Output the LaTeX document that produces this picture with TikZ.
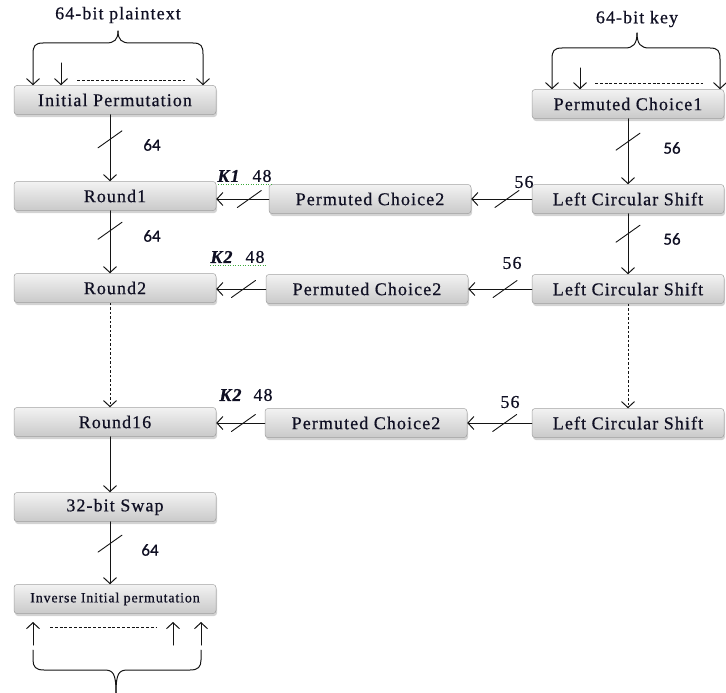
\documentclass[tikz,border=0pt]{standalone}
\usepackage{fontspec}
\setmainfont{Liberation Serif}[LetterSpace=6,FakeBold=0.6]
\newfontfamily\numfont{Carlito}[FakeBold=0.6]
\usepackage{xcolor}
\usetikzlibrary{arrows.meta,shadows}
\definecolor{inkc}{RGB}{15,15,35}
\definecolor{linec}{RGB}{20,20,20}
\definecolor{boxline}{RGB}{160,160,160}
\definecolor{spellc}{RGB}{60,170,60}
\tikzset{
 blk/.style={draw=boxline,line width=0.5pt,rounded corners=3pt,top color=gray!10,middle color=gray!24,bottom color=gray!42,minimum height=29pt,inner sep=0pt,text=inkc,font=\fontsize{18}{20}\selectfont,drop shadow={shadow xshift=1pt,shadow yshift=-2.5pt,opacity=.35}},
 lblk/.style={blk,minimum width=202pt},
 mblk/.style={blk,minimum width=202pt},
 rblk/.style={blk,minimum width=192pt},
 wid/.style={text=inkc,font=\numfont\fontsize{17}{19}\selectfont,inner sep=0pt},
 swid/.style={text=inkc,font=\fontsize{18}{20}\selectfont,inner sep=0pt},
 conn/.style={->,line width=1pt,draw=linec},
 dconn/.style={conn,line cap=butt,dash pattern=on 2.5pt off 2pt},
 dots/.style={line width=0.8pt,draw=linec,line cap=butt,dash pattern=on 3pt off 1.8pt},
 spell/.style={spellc,line width=0.7pt,line cap=butt,dash pattern=on 1pt off 1.5pt}
}
\newcommand{\busmark}[1]{\draw[line width=0.9pt,draw=linec] (#1) ++(-12,8.5) -- ++(24,-17);}

\begin{document}
\begin{tikzpicture}[line cap=round,line join=round,>={Straight Barb[length=6pt,width=13pt]},x=1pt,y=-1pt]
\useasboundingbox (0,0) rectangle (726,693);
\node[swid] (ptxt) at (118,15) {64-bit plaintext};
\node[swid] (ktxt) at (637,19) {64-bit key};
\node[lblk] (ip) at (115,100) {Initial Permutation};
\node[rblk] (pc1) at (628,104) {Permuted Choice1};
\node[lblk] (r1) at (115,196) {Round1};
\node[mblk] (pcb1) at (370,199) {Permuted Choice2};
\node[rblk] (lcs1) at (628,199) {Left Circular Shift};
\node[lblk] (r2) at (115,288) {Round2};
\node[mblk] (pcb2) at (367,289) {Permuted Choice2};
\node[rblk] (lcs2) at (628,289) {Left Circular Shift};
\node[lblk] (r16) at (115,422) {Round16};
\node[mblk] (pcb3) at (366,423) {Permuted Choice2};
\node[rblk] (lcs3) at (628,423) {Left Circular Shift};
\node[lblk] (swap) at (115,507) {32-bit Swap};
\node[lblk,font=\fontsize{14}{16}\selectfont] (iip) at (115,599) {Inverse Initial permutation};

\draw[conn] (118,31) .. controls (118,40) and (114,43) .. (106,43) -- (43,43) .. controls (35,43) and (33,46) .. (33,54) -- (ip.north -| 33,0);
\draw[conn] (118,31) .. controls (118,40) and (122,43) .. (130,43) -- (193,43) .. controls (201,43) and (203,46) .. (203,54) -- (ip.north -| 203,0);
\draw[conn] (61,63) -- (ip.north -| 61,0);
\draw[dots] (77,80) -- (185,80);
\draw[conn] (637,33) .. controls (637,44) and (633,48) .. (625,48) -- (562,48) .. controls (554,48) and (552,51) .. (552,59) -- (pc1.north -| 552,0);
\draw[conn] (637,33) .. controls (637,44) and (641,48) .. (649,48) -- (710,48) .. controls (718,48) and (720,51) .. (720,59) -- (pc1.north -| 720,0);
\draw[conn] (580,68) -- (pc1.north -| 580,0);
\draw[dots] (595,83) -- (703,83);

\draw[conn] ([xshift=-5pt]ip.south) -- ([xshift=-5pt]r1.north) coordinate[pos=.37] (s1);
\draw[conn] ([xshift=-5pt]r1.south) -- ([xshift=-5pt]r2.north) coordinate[pos=.32] (s2);
\draw[dconn] ([xshift=-5pt]r2.south) -- ([xshift=-5pt]r16.north);
\draw[conn] ([xshift=-5pt]r16.south) -- ([xshift=-5pt]swap.north);
\draw[conn] ([xshift=-5pt]swap.south) -- ([xshift=-5pt]iip.north) coordinate[pos=.35] (s3);
\draw[conn] (pc1.south) -- (lcs1.north) coordinate[pos=.35] (s4);
\draw[conn] (lcs1.south) -- (lcs2.north) coordinate[pos=.33] (s5);
\draw[dconn] (lcs2.south) -- (lcs3.north);
\draw[conn] (lcs1.west) -- (lcs1.west -| pcb1.east) coordinate[pos=.41] (s6);
\draw[conn] (pcb1.west) -- (pcb1.west -| r1.east) coordinate[pos=.37] (s7);
\draw[conn] (lcs2.west) -- (lcs2.west -| pcb2.east) coordinate[pos=.42] (s8);
\draw[conn] (pcb2.west) -- (pcb2.west -| r2.east) coordinate[pos=.45] (s9);
\draw[conn] (lcs3.west) -- (lcs3.west -| pcb3.east) coordinate[pos=.42] (s10);
\draw[conn] (pcb3.west) -- (pcb3.west -| r16.east) coordinate[pos=.44] (s11);
\busmark{s1}
\busmark{s2}
\busmark{s3}
\busmark{s4}
\busmark{s5}
\busmark{s6}
\busmark{s7}
\busmark{s8}
\busmark{s9}
\busmark{s10}
\busmark{s11}

\node[wid] (w1) at (152,145) {64};
\node[wid] (w2) at (152,236) {64};
\node[wid] (w3) at (150,550) {64};
\node[wid] (w4) at (672,148) {56};
\node[wid] (w5) at (672,239) {56};
\node[swid] (w6) at (524,182) {56};
\node[swid] (w7) at (512,263) {56};
\node[swid] (w8) at (510,402) {56};
\node[swid] (kk1) at (229,176) {\textbf{\textit{K1}}};
\node[swid] (n1) at (262,176) {48};
\node[swid] (kk2) at (222,257) {\textbf{\textit{K2}}};
\node[swid] (n2) at (255,257) {48};
\node[swid] (kk3) at (231,395) {\textbf{\textit{K2}}};
\node[swid] (n3) at (263,395) {48};
\draw[spell] (218,184) -- (271,184);
\draw[spell] (210,265) -- (267,265);

\draw[conn] (33,645) -- (33,622);
\draw[conn] (173,645) -- (173,622);
\draw[conn] (201,645) -- (201,622);
\draw[dots] (50,627) -- (157,627);
\draw[line width=1pt,draw=linec] (33,650) -- (33,660) .. controls (33,667) and (36,670) .. (44,670) -- (104,670) .. controls (113,670) and (116,673) .. (116,693);
\draw[line width=1pt,draw=linec] (201,650) -- (201,660) .. controls (201,667) and (198,670) .. (190,670) -- (128,670) .. controls (119,670) and (116,673) .. (116,693);
\end{tikzpicture}
\end{document}
